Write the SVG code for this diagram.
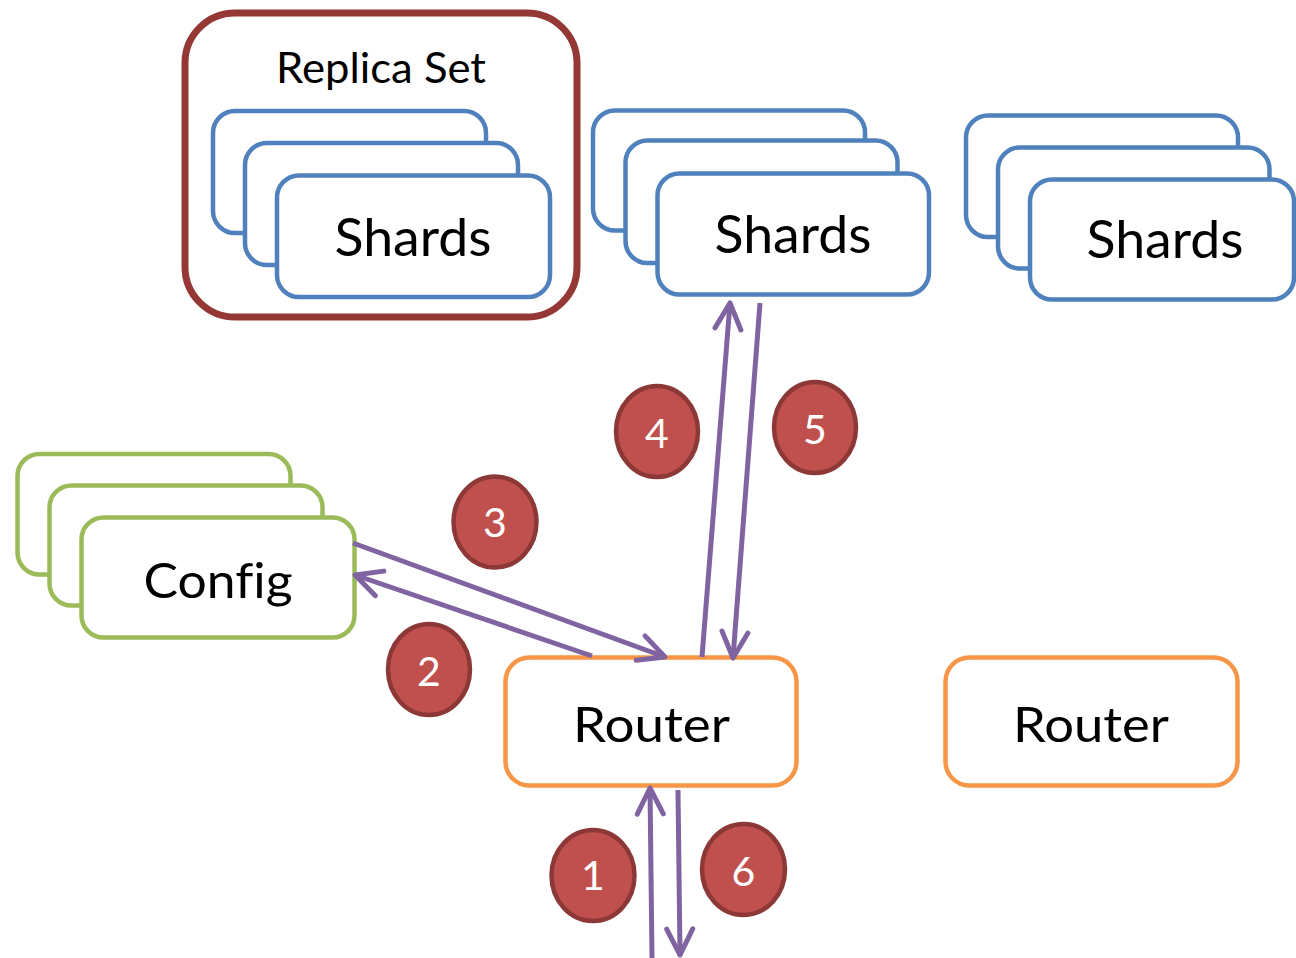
<svg xmlns="http://www.w3.org/2000/svg" width="1296" height="958" viewBox="0 0 1296 958">
<style>
.shard{fill:#fff;stroke:#4F81BD;stroke-width:4.5}
.cfg{fill:#fff;stroke:#9BBB59;stroke-width:4.5}
.rtr{fill:#fff;stroke:#F79646;stroke-width:4.5}
.lbl{font-family:Lato,"Open Sans","Liberation Sans",sans-serif;fill:#000;text-anchor:middle;font-variant-ligatures:none}
.step ellipse{fill:#C0504D;stroke:#8C3836;stroke-width:4.5}
.step text{font-family:Lato,"Open Sans","Liberation Sans",sans-serif;fill:#fff;text-anchor:middle;font-size:41px}
.conn{fill:none;stroke:#8064A2;stroke-width:5}
</style>
<defs>
<marker id="ah" markerUnits="userSpaceOnUse" markerWidth="40" markerHeight="40" viewBox="-30 -20 40 40" refX="0" refY="0" orient="auto" overflow="visible">
<path d="M-26,-13 L0,0 L-26,13" fill="none" stroke="#8064A2" stroke-width="5" stroke-linecap="round" stroke-linejoin="round"/>
</marker>
</defs>
<rect width="1296" height="958" fill="#fff"/>

<g id="replica-set">
<rect x="185" y="13" width="392" height="304" rx="50" fill="#fff" stroke="#953735" stroke-width="7"/>
<text class="lbl" x="381" y="83" font-size="42" textLength="210" lengthAdjust="spacingAndGlyphs">Replica Set</text>
</g>

<g id="shards-1">
<rect class="shard" x="213" y="111" width="273" height="122" rx="22"/>
<rect class="shard" x="245" y="143" width="273" height="122" rx="22"/>
<rect class="shard" x="277" y="175.5" width="273" height="121.5" rx="22"/>
<text class="lbl" x="413" y="256" font-size="53" textLength="157" lengthAdjust="spacingAndGlyphs">Shards</text>
</g>

<g id="shards-2">
<rect class="shard" x="593" y="110.5" width="272" height="120" rx="22"/>
<rect class="shard" x="625.5" y="140.5" width="272" height="122.5" rx="22"/>
<rect class="shard" x="657.5" y="173.5" width="271.5" height="121" rx="22"/>
<text class="lbl" x="793" y="253" font-size="53" textLength="157" lengthAdjust="spacingAndGlyphs">Shards</text>
</g>

<g id="shards-3">
<rect class="shard" x="966" y="115.5" width="272" height="121.5" rx="22"/>
<rect class="shard" x="998" y="147.5" width="271.5" height="121" rx="22"/>
<rect class="shard" x="1030" y="179.5" width="264" height="120" rx="22"/>
<text class="lbl" x="1165" y="258" font-size="53" textLength="157" lengthAdjust="spacingAndGlyphs">Shards</text>
</g>

<g id="config">
<rect class="cfg" x="17.5" y="454" width="273" height="120.5" rx="22"/>
<rect class="cfg" x="49.5" y="485.5" width="273" height="120" rx="22"/>
<rect class="cfg" x="81.5" y="517.5" width="273" height="120" rx="22"/>
<text class="lbl" x="218" y="598" font-size="49" textLength="149" lengthAdjust="spacingAndGlyphs">Config</text>
</g>

<g id="router-1">
<rect class="rtr" x="505.5" y="657.5" width="291" height="128" rx="24"/>
<text class="lbl" x="651.5" y="742" font-size="49" textLength="157" lengthAdjust="spacingAndGlyphs">Router</text>
</g>

<g id="router-2">
<rect class="rtr" x="945.5" y="657.5" width="292" height="128" rx="24"/>
<text class="lbl" x="1091" y="742" font-size="49" textLength="156" lengthAdjust="spacingAndGlyphs">Router</text>
</g>

<g id="connectors">
<line class="conn" x1="353" y1="543" x2="665" y2="657" marker-end="url(#ah)"/>
<line class="conn" x1="592" y1="656" x2="355" y2="575" marker-end="url(#ah)"/>
<line class="conn" x1="702" y1="657" x2="730" y2="303" marker-end="url(#ah)"/>
<line class="conn" x1="760" y1="303" x2="733" y2="658" marker-end="url(#ah)"/>
<line class="conn" x1="652" y1="958" x2="650" y2="788" marker-end="url(#ah)"/>
<line class="conn" x1="678" y1="790" x2="680" y2="955" marker-end="url(#ah)"/>
</g>

<g id="step-1" class="step"><ellipse cx="593" cy="875.5" rx="41.5" ry="45.5"/><text x="593" y="890">1</text></g>
<g id="step-2" class="step"><ellipse cx="429" cy="669.5" rx="41" ry="45.5"/><text x="429" y="686">2</text></g>
<g id="step-3" class="step"><ellipse cx="495" cy="522" rx="41.5" ry="45.5"/><text x="495" y="537">3</text></g>
<g id="step-4" class="step"><ellipse cx="657" cy="431.5" rx="41" ry="45.5"/><text x="657" y="448">4</text></g>
<g id="step-5" class="step"><ellipse cx="815" cy="427.5" rx="41" ry="45.5"/><text x="815" y="444">5</text></g>
<g id="step-6" class="step"><ellipse cx="743.5" cy="869.5" rx="41.5" ry="45.5"/><text x="743.5" y="886">6</text></g>
</svg>
